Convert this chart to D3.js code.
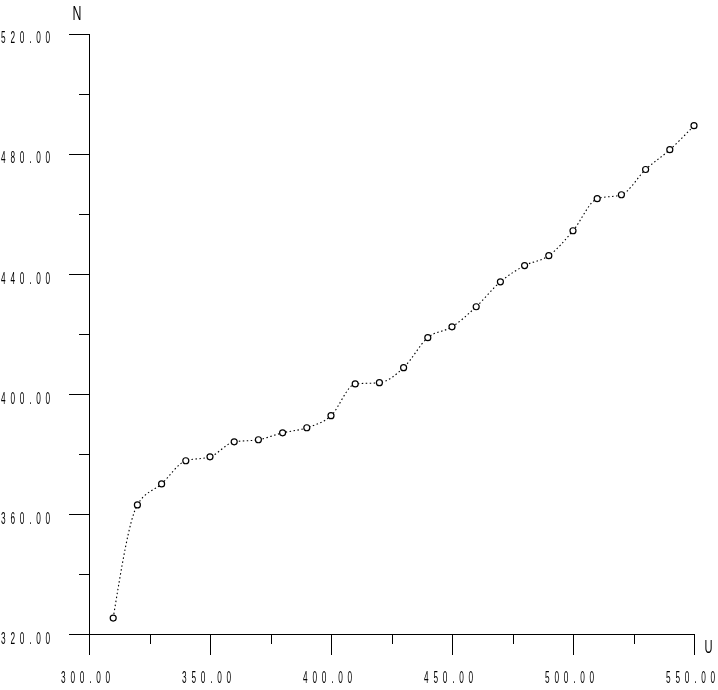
<!DOCTYPE html>
<html>
<head>
<meta charset="utf-8">
<script src="https://cdn.jsdelivr.net/npm/d3@7"></script>
<style>
  html, body { margin: 0; padding: 0; background: #fff; }
  svg { display: block; }
  text { font-family: "Liberation Sans", "DejaVu Sans", sans-serif; fill: #000; }
</style>
</head>
<body>
<svg id="chart" width="718" height="690"></svg>
<script>
const uValues = [310, 320, 330, 340, 350, 360, 370, 380, 390, 400, 410, 420, 430, 440, 450, 460, 470, 480, 490, 500, 510, 520, 530, 540, 550];
const nValues = [325.3, 363.0, 370.0, 377.7, 379.0, 384.0, 384.7, 387.0, 388.7, 392.7, 403.3, 403.7, 408.7, 418.7, 422.3, 429.0, 437.3, 442.7, 446.0, 454.3, 465.0, 466.3, 474.7, 481.3, 489.3];
const xMajorTicks = [300, 350, 400, 450, 500, 550];
const xMinorTicks = [325, 375, 425, 475, 525];
const yMajorTicks = [320, 360, 400, 440, 480, 520];
const yMinorTicks = [340, 380, 420, 460, 500];
const xAxisTitle = "U";
const yAxisTitle = "N";

const svg = d3.select("#chart");
const x = d3.scaleLinear().domain([300, 550]).range([89, 694]);
const y = d3.scaleLinear().domain([320, 520]).range([634, 33.5]);
const fmt = d3.format(".2f");

function narrowText(g, str, px, py, anchor, size, sx, spacing) {
  return g.append("text")
    .attr("transform", `translate(${px},${py}) scale(${sx},1)`)
    .attr("text-anchor", anchor)
    .attr("font-size", size)
    .attr("letter-spacing", spacing)
    .text(str);
}

const axes = svg.append("g").attr("stroke", "#000").attr("stroke-width", 1).attr("shape-rendering", "crispEdges");
axes.append("line").attr("x1", x(300) + 0.5).attr("x2", x(300) + 0.5).attr("y1", y(520)).attr("y2", y(320) + 0.5);
axes.append("line").attr("x1", x(300)).attr("x2", x(550) + 0.5).attr("y1", y(320) + 0.5).attr("y2", y(320) + 0.5);

xMajorTicks.forEach(d => {
  axes.append("line").attr("x1", Math.round(x(d)) + 0.5).attr("x2", Math.round(x(d)) + 0.5)
    .attr("y1", y(320)).attr("y2", y(320) + 21);
});
xMinorTicks.forEach(d => {
  axes.append("line").attr("x1", Math.round(x(d)) + 0.5).attr("x2", Math.round(x(d)) + 0.5)
    .attr("y1", y(320)).attr("y2", y(320) + 10);
});
yMajorTicks.forEach(d => {
  axes.append("line").attr("x1", x(300) - 20).attr("x2", x(300))
    .attr("y1", Math.round(y(d)) + 0.5).attr("y2", Math.round(y(d)) + 0.5);
});
yMinorTicks.forEach(d => {
  axes.append("line").attr("x1", x(300) - 10).attr("x2", x(300))
    .attr("y1", Math.round(y(d)) + 0.5).attr("y2", Math.round(y(d)) + 0.5);
});

const labels = svg.append("g").attr("opacity", 0.999);
xMajorTicks.forEach(d => {
  narrowText(labels, fmt(d), x(d) - 1, 683, "middle", 16.5, 0.5, 9.6);
});
yMajorTicks.forEach(d => {
  narrowText(labels, fmt(d), 1, y(d) + 9.8, "start", 16.5, 0.5, 9.6);
});
narrowText(labels, yAxisTitle, 77, 20, "middle", 20, 0.62, 0);
narrowText(labels, xAxisTitle, 708.5, 653, "middle", 18, 0.62, 0);

const data = uValues.map((u, i) => ({ u, n: nValues[i] }));
const line = d3.line().x(d => x(d.u)).y(d => y(d.n)).curve(d3.curveMonotoneX);
svg.append("path").datum(data)
  .attr("d", line)
  .attr("fill", "none")
  .attr("stroke", "#000")
  .attr("stroke-width", 1.1)
  .attr("stroke-dasharray", "1.5,2.5");

svg.append("g").selectAll("circle").data(data).join("circle")
  .attr("cx", d => x(d.u))
  .attr("cy", d => y(d.n))
  .attr("r", 3)
  .attr("fill", "#fff")
  .attr("stroke", "#000")
  .attr("stroke-width", 1.2);
</script>
</body>
</html>
